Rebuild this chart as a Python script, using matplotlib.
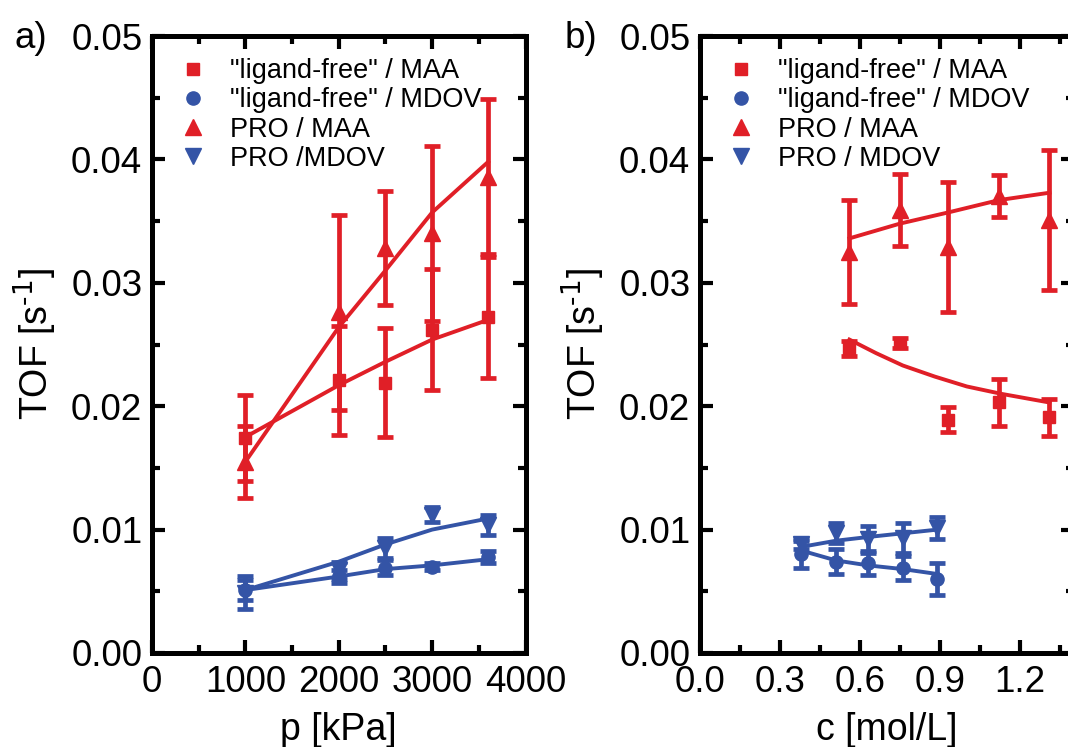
import matplotlib
matplotlib.use("Agg")
import matplotlib.pyplot as plt
from matplotlib.ticker import MultipleLocator, FormatStrFormatter

plt.rcParams['font.family'] = ['Liberation Sans', 'DejaVu Sans']
plt.rcParams['mathtext.default'] = 'regular'

RED = '#E01F27'
BLUE = '#3454A6'

# ---- panel a: pressure series ----
p_kpa = [1000, 2000, 2500, 3000, 3600]
lf_maa_a = [0.0174, 0.0221, 0.0219, 0.0262, 0.0272]
lf_maa_a_err = [0.0035, 0.0044, 0.0044, 0.0049, 0.0049]
lf_mdov_a = [0.0051, 0.0062, 0.0069, 0.0070, 0.0078]
lf_mdov_a_err = [0.0008, 0.0005, 0.0006, 0.0003, 0.0005]
pro_maa_a = [0.0155, 0.0276, 0.0328, 0.0340, 0.0386]
pro_maa_a_err = [0.0029, 0.0079, 0.0046, 0.0071, 0.0063]
pro_mdov_a = [0.0049, 0.0067, 0.0085, 0.0112, 0.0104]
pro_mdov_a_err = [0.0013, 0.0007, 0.0008, 0.0006, 0.0008]

# fitted curves evaluated at the measured pressures
fit_lf_maa_a = [0.0175, 0.0217, 0.0236, 0.0254, 0.0270]
fit_pro_maa_a = [0.0155, 0.0264, 0.0310, 0.0357, 0.0398]
fit_lf_mdov_a = [0.0051, 0.0062, 0.0068, 0.0071, 0.0076]
fit_pro_mdov_a = [0.0051, 0.0074, 0.0088, 0.0100, 0.0109]

# ---- panel b: concentration series ----
c_maa = [0.56, 0.75, 0.93, 1.12, 1.31]
lf_maa_b = [0.0247, 0.0251, 0.0189, 0.0203, 0.0191]
lf_maa_b_err = [0.0006, 0.0004, 0.0010, 0.0019, 0.0015]
pro_maa_b = [0.0325, 0.0359, 0.0329, 0.0370, 0.0351]
pro_maa_b_err = [0.0042, 0.0029, 0.0053, 0.0017, 0.0057]

c_mdov = [0.38, 0.51, 0.63, 0.76, 0.89]
lf_mdov_b = [0.0080, 0.0074, 0.0073, 0.0069, 0.0060]
lf_mdov_b_err = [0.0011, 0.0010, 0.0010, 0.0010, 0.0013]
pro_mdov_b = [0.0088, 0.0097, 0.0092, 0.0093, 0.0101]
pro_mdov_b_err = [0.0004, 0.0008, 0.0011, 0.0012, 0.0009]

fit_c_lf_maa = [0.56, 0.66, 0.76, 0.88, 1.00, 1.13, 1.31]
fit_lf_maa_b = [0.0254, 0.0243, 0.0233, 0.0224, 0.0216, 0.0210, 0.0203]
fit_pro_maa_b = [0.0336, 0.0348, 0.0357, 0.0367, 0.0373]
fit_lf_mdov_b = [0.0083, 0.0075, 0.0071, 0.0068, 0.0064]
fit_pro_mdov_b = [0.0086, 0.0091, 0.0094, 0.0097, 0.0100]

W, H = 1068, 747
fig = plt.figure(figsize=(W / 100, H / 100), dpi=100)

ax_a = fig.add_axes([152 / W, 1 - 653 / H, 373.5 / W, 617 / H])
ax_b = fig.add_axes([700 / W, 1 - 653 / H, 373.5 / W, 617 / H])

EB = dict(linestyle='none', elinewidth=3.4, capsize=6, capthick=3.4)
FIT_LW = 2.8
TICK_FS = 26.5
LABEL_FS = 27


def series(ax, x, y, e, marker, color, label, ms):
    ax.errorbar(x, y, yerr=e, marker=marker, color=color, ms=ms,
                mec=color, label=label, **EB)


def style(ax):
    for s in ax.spines.values():
        s.set_linewidth(3.6)
    ax.set_ylim(0, 0.05)
    ax.yaxis.set_major_locator(MultipleLocator(0.01))
    ax.yaxis.set_minor_locator(MultipleLocator(0.005))
    ax.yaxis.set_major_formatter(FormatStrFormatter('%.2f'))
    ax.tick_params(which='both', direction='in', top=True, right=True,
                   width=3, labelsize=TICK_FS)
    ax.tick_params(which='major', length=9.5)
    ax.tick_params(which='minor', length=5.5)
    ax.tick_params(axis='x', pad=9)
    ax.tick_params(axis='y', pad=7)
    ax.set_ylabel('TOF [s$^{\\text{-1}}$]', fontsize=LABEL_FS, labelpad=9)


# panel a
series(ax_a, p_kpa, lf_maa_a, lf_maa_a_err, 's', RED, '"ligand-free" / MAA', 9)
series(ax_a, p_kpa, lf_mdov_a, lf_mdov_a_err, 'o', BLUE, '"ligand-free" / MDOV', 9.5)
series(ax_a, p_kpa, pro_maa_a, pro_maa_a_err, '^', RED, 'PRO / MAA', 11)
series(ax_a, p_kpa, pro_mdov_a, pro_mdov_a_err, 'v', BLUE, 'PRO /MDOV', 11)
ax_a.plot(p_kpa, fit_lf_maa_a, color=RED, lw=FIT_LW)
ax_a.plot(p_kpa, fit_pro_maa_a, color=RED, lw=FIT_LW)
ax_a.plot(p_kpa, fit_lf_mdov_a, color=BLUE, lw=FIT_LW)
ax_a.plot(p_kpa, fit_pro_mdov_a, color=BLUE, lw=FIT_LW)
ax_a.set_xlim(0, 4000)
ax_a.xaxis.set_major_locator(MultipleLocator(1000))
ax_a.xaxis.set_minor_locator(MultipleLocator(500))
style(ax_a)
ax_a.set_xlabel('p [kPa]', fontsize=LABEL_FS, labelpad=8)

# panel b
series(ax_b, c_maa, lf_maa_b, lf_maa_b_err, 's', RED, '"ligand-free" / MAA', 9)
series(ax_b, c_mdov, lf_mdov_b, lf_mdov_b_err, 'o', BLUE, '"ligand-free" / MDOV', 9.5)
series(ax_b, c_maa, pro_maa_b, pro_maa_b_err, '^', RED, 'PRO / MAA', 11)
series(ax_b, c_mdov, pro_mdov_b, pro_mdov_b_err, 'v', BLUE, 'PRO / MDOV', 11)
ax_b.plot(fit_c_lf_maa, fit_lf_maa_b, color=RED, lw=FIT_LW)
ax_b.plot(c_maa, fit_pro_maa_b, color=RED, lw=FIT_LW)
ax_b.plot(c_mdov, fit_lf_mdov_b, color=BLUE, lw=FIT_LW)
ax_b.plot(c_mdov, fit_pro_mdov_b, color=BLUE, lw=FIT_LW)
ax_b.set_xlim(0, 1.4)
ax_b.xaxis.set_major_locator(MultipleLocator(0.3))
ax_b.xaxis.set_minor_locator(MultipleLocator(0.15))
ax_b.xaxis.set_major_formatter(FormatStrFormatter('%.1f'))
style(ax_b)
ax_b.set_xlabel('c [mol/L]', fontsize=LABEL_FS, labelpad=8)

for ax in (ax_a, ax_b):
    handles, labels = ax.get_legend_handles_labels()
    handles = [h[0] for h in handles]
    ax.legend(handles, labels, loc='upper left', bbox_to_anchor=(0.02, 0.995),
              frameon=False, fontsize=19.5, handlelength=1.1, handletextpad=0.8,
              labelspacing=0.12, borderaxespad=0.3)

fig.text(15 / W, 1 - 38 / H, 'a)', fontsize=TICK_FS, va='center', ha='left')
fig.text(565 / W, 1 - 38 / H, 'b)', fontsize=TICK_FS, va='center', ha='left')

fig.savefig('out.png', dpi=100)
